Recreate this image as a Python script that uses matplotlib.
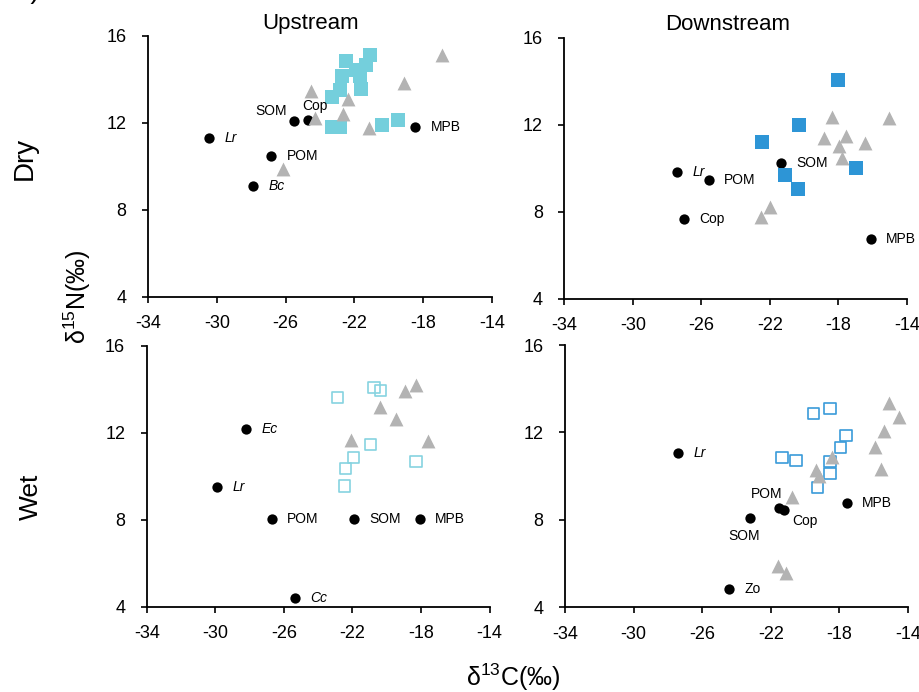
import matplotlib
matplotlib.use("Agg")
import matplotlib.pyplot as plt

plt.rcParams['font.family'] = ['Liberation Sans', 'DejaVu Sans']
plt.rcParams['axes.unicode_minus'] = False
plt.rcParams['mathtext.fontset'] = 'custom'
plt.rcParams['mathtext.rm'] = 'Liberation Sans'
plt.rcParams['mathtext.it'] = 'Liberation Sans:italic'
plt.rcParams['mathtext.default'] = 'regular'

# ---------------- data: delta13C (x) and delta15N (y) ----------------
# Upstream, dry season
up_dry_src_names = ["Lr", "SOM", "Cop", "POM", "Bc", "MPB"]
up_dry_src_x = [-30.43, -25.54, -24.72, -26.84, -27.90, -18.45]
up_dry_src_y = [11.28, 12.08, 12.14, 10.47, 9.10, 11.83]
up_dry_sq_x = [-21.11, -22.49, -21.32, -21.89, -22.70, -21.65, -21.59,
               -22.86, -23.30, -23.30, -22.82, -20.39, -19.46]
up_dry_sq_y = [15.14, 14.84, 14.65, 14.45, 14.14, 14.14, 13.57,
               13.49, 13.18, 11.83, 11.83, 11.91, 12.14]
up_dry_tri_x = [-24.52, -22.39, -22.68, -24.27, -21.17, -19.09, -16.90, -26.18]
up_dry_tri_y = [13.46, 13.11, 12.42, 12.23, 11.77, 13.83, 15.11, 9.87]

# Downstream, dry season
dn_dry_src_names = ["Lr", "POM", "Cop", "SOM", "MPB"]
dn_dry_src_x = [-27.41, -25.55, -27.00, -21.34, -16.10]
dn_dry_src_y = [9.84, 9.46, 7.66, 10.25, 6.73]
dn_dry_sq_x = [-18.03, -20.29, -22.46, -21.10, -20.34, -16.98]
dn_dry_sq_y = [14.05, 11.99, 11.19, 9.69, 9.03, 10.00]
dn_dry_tri_x = [-18.40, -15.07, -18.83, -17.54, -17.95, -16.43, -17.79, -22.00, -22.50]
dn_dry_tri_y = [12.34, 12.29, 11.40, 11.48, 11.02, 11.14, 10.46, 8.23, 7.77]

# Upstream, wet season
up_wet_src_names = ["Ec", "Lr", "POM", "SOM", "MPB", "Cc"]
up_wet_src_x = [-28.21, -29.88, -26.71, -21.91, -18.05, -25.35]
up_wet_src_y = [12.16, 9.50, 8.02, 8.05, 8.02, 4.40]
up_wet_sq_x = [-22.86, -20.74, -20.35, -20.93, -21.95, -22.39, -22.47, -18.29]
up_wet_sq_y = [13.63, 14.09, 13.93, 11.45, 10.85, 10.34, 9.55, 10.69]
up_wet_tri_x = [-18.95, -18.31, -20.39, -19.46, -22.10, -17.57]
up_wet_tri_y = [13.93, 14.18, 13.17, 12.63, 11.66, 11.63]

# Downstream, wet season
dn_wet_src_names = ["Lr", "POM", "Cop", "SOM", "MPB", "Zo"]
dn_wet_src_x = [-27.41, -21.50, -21.21, -23.19, -17.57, -24.44]
dn_wet_src_y = [11.04, 8.53, 8.45, 8.10, 8.76, 4.82]
dn_wet_sq_x = [-19.50, -18.55, -17.62, -17.92, -21.35, -20.53, -18.55, -18.55, -19.27]
dn_wet_sq_y = [12.87, 13.10, 11.85, 11.32, 10.84, 10.71, 10.66, 10.13, 9.47]
dn_wet_tri_x = [-15.13, -14.51, -15.38, -15.92, -15.57, -18.43, -19.38, -19.19,
                -20.76, -21.56, -21.13]
dn_wet_tri_y = [13.33, 12.69, 12.08, 11.32, 10.31, 10.86, 10.28, 10.01,
                9.06, 5.90, 5.56]

italic_names = {"Lr", "Bc", "Ec", "Cc"}

x_ticks = [-34, -30, -26, -22, -18, -14]
y_ticks = [4, 8, 12, 16]

# ---------------- styling ----------------
CYAN = "#74cfdc"
BLUE = "#2d95d6"
CYAN_EDGE = "#86d3e0"
BLUE_EDGE = "#3a9bd9"
GREY = "#b3b3b3"

W, H = 920, 692
fig = plt.figure(figsize=(W / 100, H / 100), dpi=100)


def px_axes(left, top, right, bottom):
    return fig.add_axes([left / W, 1 - bottom / H, (right - left) / W, (bottom - top) / H])


# label offsets in points (dx, dy, ha); default is to the right of the point
default_off = (11.0, 0.0, "left")
label_offsets = {
    ("ud", "SOM"): (-5.0, 7.0, "right"),
    ("ud", "Cop"): (-3.8, 9.6, "left"),
    ("ww", "POM"): (2.4, 10.3, "right"),
    ("ww", "Cop"): (6.0, -7.7, "left"),
    ("ww", "SOM"): (-4.3, -13.2, "center"),
}

panels = [
    ("ud", (148, 36, 492, 296.5), up_dry_src_names, up_dry_src_x, up_dry_src_y,
     up_dry_sq_x, up_dry_sq_y, up_dry_tri_x, up_dry_tri_y, CYAN, True),
    ("dd", (564.3, 37.7, 907, 298.7), dn_dry_src_names, dn_dry_src_x, dn_dry_src_y,
     dn_dry_sq_x, dn_dry_sq_y, dn_dry_tri_x, dn_dry_tri_y, BLUE, True),
    ("uw", (146.7, 345.7, 489.5, 606.7), up_wet_src_names, up_wet_src_x, up_wet_src_y,
     up_wet_sq_x, up_wet_sq_y, up_wet_tri_x, up_wet_tri_y, CYAN_EDGE, False),
    ("ww", (565, 345, 908, 607.3), dn_wet_src_names, dn_wet_src_x, dn_wet_src_y,
     dn_wet_sq_x, dn_wet_sq_y, dn_wet_tri_x, dn_wet_tri_y, BLUE_EDGE, False),
]

for key, box, names, sx, sy, qx, qy, tx, ty, col, filled in panels:
    ax = px_axes(*box)
    ax.set_xlim(-34, -14)
    ax.set_ylim(4, 16)
    for side in ("top", "right"):
        ax.spines[side].set_visible(False)
    for side in ("left", "bottom"):
        ax.spines[side].set_linewidth(1.3)
    ax.set_xticks(x_ticks)
    ax.set_yticks(y_ticks)
    ax.set_xticklabels([str(v) for v in x_ticks])
    ax.set_yticklabels([str(v) for v in y_ticks])
    ax.tick_params(axis="both", direction="out", length=4.5, width=1.2,
                   labelsize=13, colors="black")
    ax.tick_params(axis="x", pad=9)
    ax.tick_params(axis="y", pad=11)

    ax.scatter(sx, sy, s=55, c="black", marker="o", linewidths=0, zorder=3)
    if filled:
        ax.scatter(qx, qy, s=92, c=col, marker="s", linewidths=0, zorder=4)
    else:
        ax.scatter(qx, qy, s=66, facecolors="none", edgecolors=col,
                   marker="s", linewidths=1.2, zorder=4)
    ax.scatter(tx, ty, s=100, c=GREY, marker="^", linewidths=0, zorder=5)

    for name, x, y in zip(names, sx, sy):
        dx, dy, ha = label_offsets.get((key, name), default_off)
        ax.annotate(name, (x, y), xytext=(dx, dy), textcoords="offset points",
                    ha=ha, va="center", fontsize=10,
                    style="italic" if name in italic_names else "normal",
                    zorder=6)

# column titles and row labels
fig.text(311 / W, 1 - 23 / H, "Upstream", ha="center", va="center", fontsize=16)
fig.text(728 / W, 1 - 25 / H, "Downstream", ha="center", va="center", fontsize=16)
fig.text(25 / W, 1 - 158 / H, "Dry", ha="center", va="center", rotation=90, fontsize=20)
fig.text(31 / W, 1 - 497 / H, "Wet", ha="center", va="center", rotation=90, fontsize=19)

# shared axis labels
fig.text(77 / W, 1 - 297 / H, "δ$^{15}$N(‰)", ha="center", va="center",
         rotation=90, fontsize=18)
fig.text(513 / W, 1 - 677 / H, "δ$^{13}$C(‰)", ha="center", va="center", fontsize=18)

# panel letter sitting at the very top edge
fig.text(40 / W, 1 + 1.5 / H, "b)", ha="right", va="baseline", fontsize=20)

fig.savefig("out.png", dpi=100)
